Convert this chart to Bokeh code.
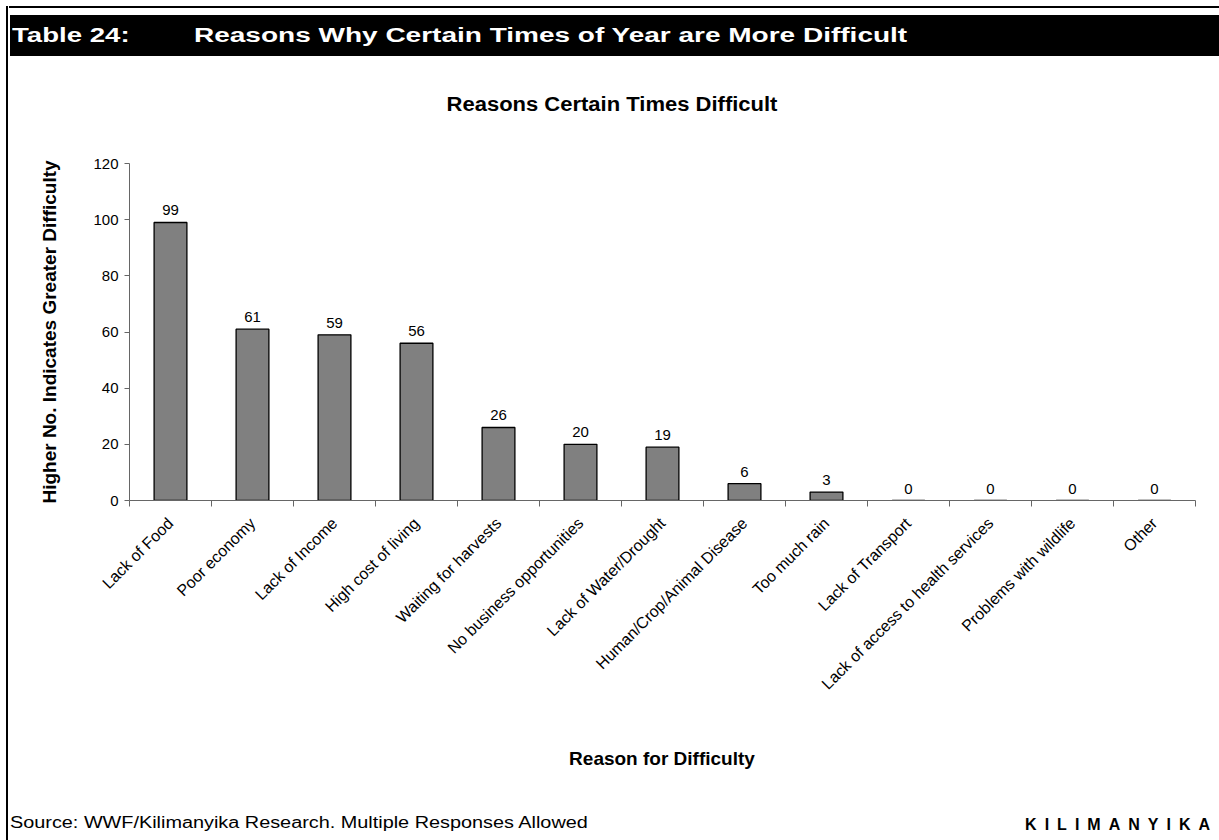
import math

from bokeh.core.properties import value
from bokeh.embed import file_html
from bokeh.layouts import column, row
from bokeh.models import ColumnDataSource, Div, FixedTicker, LabelSet, Range1d
from bokeh.plotting import figure
from bokeh.resources import INLINE

# ---- data -------------------------------------------------------------
categories = [
    "Lack of Food",
    "Poor economy",
    "Lack of Income",
    "High cost of living",
    "Waiting for harvests",
    "No business opportunities",
    "Lack of Water/Drought",
    "Human/Crop/Animal Disease",
    "Too much rain",
    "Lack of Transport",
    "Lack of access to health services",
    "Problems with wildlife",
    "Other",
]
scores = [99, 61, 59, 56, 26, 20, 19, 6, 3, 0, 0, 0, 0]
y_ticks = [0, 20, 40, 60, 80, 100, 120]

header_label = "Table 24:"
header_title = "Reasons Why Certain Times of Year are More Difficult"
chart_title = "Reasons Certain Times Difficult"
x_title = "Reason for Difficulty"
y_title = "Higher No. Indicates Greater Difficulty"
source_note = "Source: WWF/Kilimanyika Research. Multiple Responses Allowed"
brand = "KILIMANYIKA"

# ---- page geometry (pixels) ------------------------------------------
PAGE_W, PAGE_H = 1219, 840
STRIP_W = 9                     # left rule strip
BODY_W = PAGE_W - STRIP_W
HEAD_H, FOOT_H = 130, 110
FIG_H = PAGE_H - HEAD_H - FOOT_H
FRAME_L, FRAME_R, FRAME_T, FRAME_B = 129, 1195, 163, 500   # page coordinates
FONT_NAME = "Liberation Sans"
AXIS_GREY = "#666666"


def box(left, top, width, height, color="black"):
    return (f'<div style="position:absolute;left:{left}px;top:{top}px;'
            f'width:{width}px;height:{height}px;background:{color};"></div>')


def text(t, top, size, bold=False, color="black", left=None, right=None,
         width=None, align="left", stretch=1.0, extra=""):
    pos = f"top:{top}px;"
    if left is not None:
        pos += f"left:{left}px;"
    if right is not None:
        pos += f"right:{right}px;"
    if width is not None:
        pos += f"width:{width}px;"
    weight = "bold" if bold else "normal"
    origin = {"left": "0 0", "center": "50% 0", "right": "100% 0"}[align]
    return (f'<div style="position:absolute;{pos}white-space:nowrap;'
            f"font-family:'{FONT_NAME}';font-size:{size}px;font-weight:{weight};"
            f"line-height:1;color:{color};text-align:{align};"
            f'transform:scaleX({stretch});transform-origin:{origin};{extra}">{t}</div>')


def panel(inner, width, height):
    html = f'<div style="position:relative;width:{width}px;height:{height}px;">{inner}</div>'
    return Div(text=html, width=width, height=height, margin=0)


# ---- left page rule ----------------------------------------------------
strip = panel(box(6, 6, 2, PAGE_H - 6), STRIP_W, PAGE_H)

# ---- heading band and chart title --------------------------------------
head = panel(
    box(0, 6, BODY_W, 2)
    + box(1, 15, BODY_W - 1, 41)
    + text(header_label, 25, 20, bold=True, color="white", left=3, stretch=1.38)
    + text(header_title, 25, 20, bold=True, color="white", left=185, stretch=1.4)
    + text(chart_title, 94, 20, bold=True, left=303, width=600, align="center", stretch=1.1),
    BODY_W, HEAD_H)

# ---- bar chart ---------------------------------------------------------
n = len(categories)
slot_centres = [i + 0.5 for i in range(n)]   # one unit-wide slot per category
slot_edges = list(range(n + 1))
src = ColumnDataSource(dict(x=slot_centres, val=scores, txt=[str(v) for v in scores]))

p = figure(
    width=BODY_W, height=FIG_H,
    x_range=Range1d(0, n), y_range=Range1d(0, 120),
    output_backend="svg", toolbar_location=None,
    min_border_left=FRAME_L - STRIP_W, min_border_right=PAGE_W - FRAME_R,
    min_border_top=FRAME_T - HEAD_H, min_border_bottom=HEAD_H + FIG_H - FRAME_B,
    background_fill_color="white", border_fill_color="white", margin=0,
)
p.outline_line_color = None
p.grid.visible = False

p.vbar(x="x", top="val", width=0.4, source=src,
       fill_color="#808080", line_color="black", line_width=1.3)

p.add_layout(LabelSet(x="x", y="val", text="txt", source=src,
                      y_offset=7, text_align="center", text_baseline="bottom",
                      text_font=value(FONT_NAME), text_font_size="15px", text_color="black"))

ya = p.yaxis[0]
ya.ticker = FixedTicker(ticks=y_ticks)
ya.axis_line_color = AXIS_GREY
ya.major_tick_line_color = AXIS_GREY
ya.major_tick_out = 5
ya.major_tick_in = 0
ya.minor_tick_line_color = None
ya.major_label_text_font = FONT_NAME
ya.major_label_text_font_size = "15px"
ya.major_label_text_color = "black"
ya.major_label_standoff = 6
ya.axis_label = y_title
ya.axis_label_text_font = FONT_NAME
ya.axis_label_text_font_size = "19px"
ya.axis_label_text_font_style = "bold"
ya.axis_label_text_color = "black"
ya.axis_label_standoff = 30

# category names under slot centres, tick marks on slot boundaries
xa = p.xaxis[0]
xa.ticker = FixedTicker(ticks=slot_centres, minor_ticks=slot_edges)
xa.major_label_overrides = {c: nm for c, nm in zip(slot_centres, categories)}
xa.axis_line_color = AXIS_GREY
xa.major_tick_line_color = None
xa.major_tick_out = 0
xa.major_tick_in = 0
xa.minor_tick_line_color = AXIS_GREY
xa.minor_tick_out = 6
xa.minor_tick_in = 0
xa.major_label_orientation = math.pi / 4
xa.major_label_text_font = FONT_NAME
xa.major_label_text_font_size = "16px"
xa.major_label_text_color = "black"
xa.major_label_standoff = 14

# ---- axis title and source line ----------------------------------------
foot = panel(
    text(x_title, 19, 19, bold=True, left=353, width=600, align="center")
    + text(source_note, 85, 16, left=1, stretch=1.24)
    + text(brand, 87, 16, bold=True, right=1, extra="letter-spacing:8px;"),
    BODY_W, FOOT_H)

page = row(strip, column(head, p, foot, spacing=0, margin=0), spacing=0, margin=0)

open("out.html", "w").write(file_html(page, INLINE))
